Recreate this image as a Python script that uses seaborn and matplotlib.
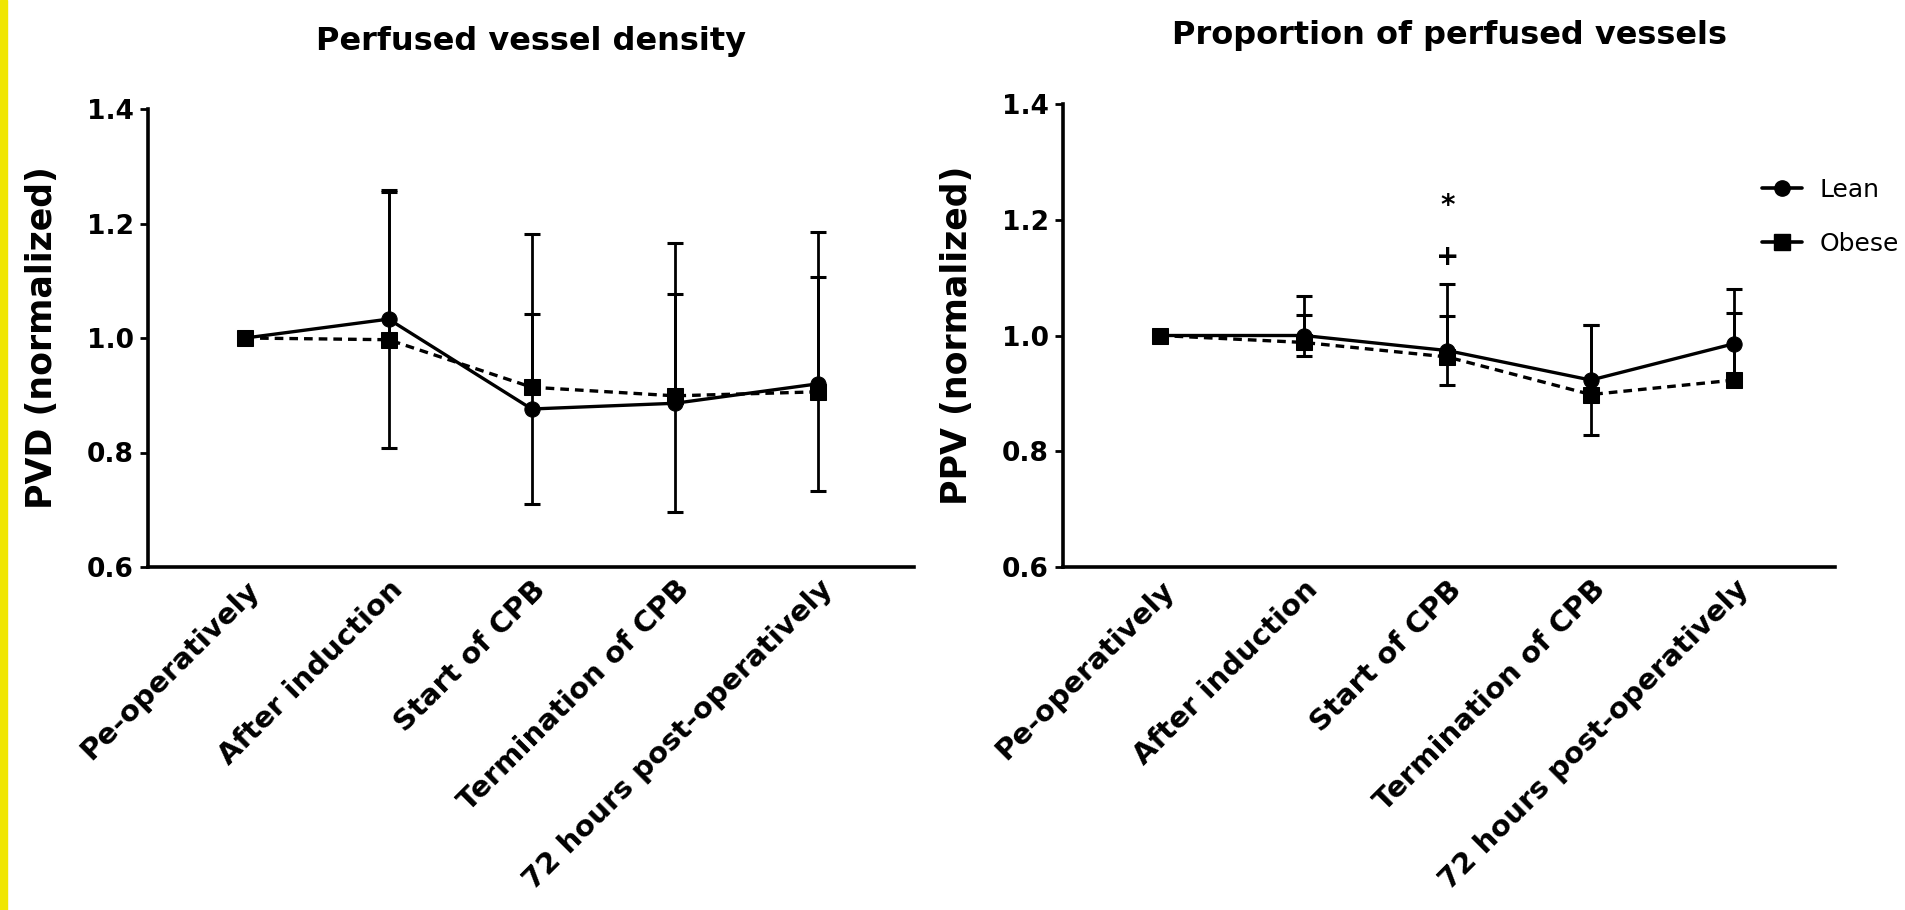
import numpy as np
import pandas as pd
import matplotlib
matplotlib.use("Agg")
import matplotlib.pyplot as plt
import matplotlib.transforms as mtransforms
import seaborn as sns
from matplotlib.patches import Rectangle
from matplotlib.lines import Line2D

# --- data ---
timepoints = ["Pe-operatively", "After induction", "Start of CPB",
              "Termination of CPB", "72 hours post-operatively"]
groups = ["Lean", "Obese"]

pvd_lean = [1.000, 1.033, 0.876, 0.886, 0.920]
pvd_obese = [1.000, 0.997, 0.914, 0.899, 0.906]
pvd_lean_sd = [0.0, 0.225, 0.166, 0.190, 0.187]
pvd_obese_sd = [0.0, 0.258, 0.268, 0.267, 0.279]

ppv_lean = [1.000, 1.000, 0.974, 0.923, 0.986]
ppv_obese = [1.000, 0.988, 0.963, 0.898, 0.923]
ppv_lean_sd = [0.0, 0.035, 0.059, 0.095, 0.053]
ppv_obese_sd = [0.0, 0.080, 0.126, 0.120, 0.158]

y_ticks = [0.6, 0.8, 1.0, 1.2, 1.4]
ppv_marks = ["*", "+"]
ppv_mark_y = [1.224, 1.135]

sns.set_style("ticks")
plt.rcParams["font.family"] = ["DejaVu Sans"]
plt.rcParams["text.color"] = "black"
plt.rcParams["axes.labelcolor"] = "black"
plt.rcParams["xtick.color"] = "black"
plt.rcParams["ytick.color"] = "black"
plt.rcParams["axes.edgecolor"] = "black"

fig = plt.figure(figsize=(19.05, 9.10), dpi=100)
fig.patches.append(Rectangle((0, 0), 7 / 1905, 1, transform=fig.transFigure,
                             color="#f0e600", zorder=0))

ax1 = fig.add_axes([148 / 1905, 343 / 910, 766 / 1905, 458 / 910])
ax2 = fig.add_axes([1063 / 1905, 343 / 910, 772 / 1905, 463 / 910])


def draw_panel(ax, lean, obese, lean_sd, obese_sd, title, ylabel, xlim):
    x = np.arange(len(timepoints))
    df = pd.DataFrame({
        "x": np.concatenate([x, x]),
        "value": lean + obese,
        "group": ["Lean"] * len(x) + ["Obese"] * len(x),
    })
    lsd = np.array(lean_sd)
    osd = np.array(obese_sd)
    m = lsd > 0
    ax.errorbar(x[m], np.array(lean)[m], yerr=lsd[m], fmt="none", ecolor="black",
                elinewidth=2.0, capsize=5.5, capthick=2.2, zorder=2)
    m = osd > 0
    ax.errorbar(x[m], np.array(obese)[m], yerr=[np.zeros(m.sum()), osd[m]],
                fmt="none", ecolor="black", elinewidth=2.0, capsize=5.5,
                capthick=2.2, zorder=2)
    sns.lineplot(data=df, x="x", y="value", hue="group", style="group",
                 palette={"Lean": "black", "Obese": "black"},
                 markers={"Lean": "o", "Obese": "s"},
                 dashes={"Lean": "", "Obese": (2.6, 1.8)},
                 markersize=11, linewidth=2.4, markeredgecolor="black",
                 legend=False, ax=ax, zorder=3)

    ax.set_xlim(*xlim)
    ax.set_ylim(0.6, 1.4)
    ax.set_yticks(y_ticks)
    ax.set_yticklabels([f"{v:.1f}" for v in y_ticks], fontsize=19,
                       fontweight="bold")
    ax.set_xticks(x)
    ax.set_xticklabels(timepoints, rotation=45, ha="right",
                       rotation_mode="anchor", fontsize=21, fontweight="bold")
    offset = mtransforms.ScaledTranslation(12 / 100, -14 / 100, fig.dpi_scale_trans)
    for lab in ax.get_xticklabels():
        lab.set_transform(lab.get_transform() + offset)
    ax.tick_params(axis="x", length=0, pad=6)
    ax.tick_params(axis="y", length=6, width=2, pad=4, direction="out")
    ax.set_xlabel("")
    ax.set_ylabel(ylabel, fontsize=25, fontweight="bold", labelpad=20)
    ax.text(0.5, 1.148, title, transform=ax.transAxes, ha="center", va="center",
            fontsize=23, fontweight="bold")
    sns.despine(ax=ax)
    for s in ["left", "bottom"]:
        ax.spines[s].set_linewidth(2.6)
    ax.set_facecolor("white")


draw_panel(ax1, pvd_lean, pvd_obese, pvd_lean_sd, pvd_obese_sd,
           "Perfused vessel density", "PVD (normalized)", (-0.68, 4.67))
draw_panel(ax2, ppv_lean, ppv_obese, ppv_lean_sd, ppv_obese_sd,
           "Proportion of perfused vessels", "PPV (normalized)", (-0.675, 4.70))

for mark, yv in zip(ppv_marks, ppv_mark_y):
    ax2.text(2, yv, mark, ha="center", va="center", fontsize=20,
             fontweight="bold")

handles = [
    Line2D([], [], color="black", marker="o", lw=2.6, markersize=11),
    Line2D([], [], color="black", marker="s", lw=2.6, markersize=11),
]
fig.legend(handles, groups, loc="center left",
           bbox_to_anchor=(1762 / 1905, 1 - 217 / 910), frameon=False,
           fontsize=18, handlelength=1.6, handletextpad=0.7,
           labelspacing=1.2, borderpad=0, borderaxespad=0)

fig.savefig("out.png", dpi=100, facecolor="white")
